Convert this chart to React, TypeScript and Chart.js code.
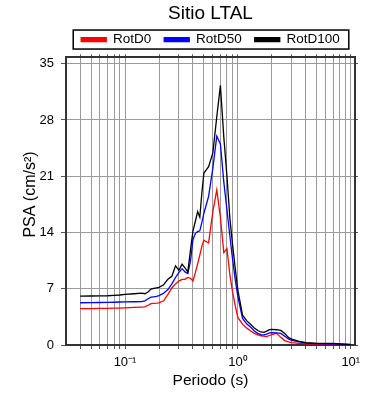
import React, { useEffect, useRef } from 'react';
import { Chart, registerables } from 'chart.js';

Chart.register(...registerables);

const periods = [
  0.04, 0.05, 0.06, 0.07, 0.08, 0.09, 0.1, 0.12, 0.14, 0.15, 0.16, 0.17, 0.18, 0.19, 0.2,
  0.22, 0.24, 0.26, 0.28, 0.3, 0.32, 0.34, 0.36, 0.38, 0.4, 0.42, 0.44, 0.46, 0.48, 0.5,
  0.55, 0.6, 0.65, 0.7, 0.75, 0.8, 0.85, 0.9, 0.95, 1.0, 1.1, 1.2, 1.3, 1.4, 1.5,
  1.6, 1.7, 1.8, 1.9, 2.0, 2.2, 2.4, 2.6, 2.8, 3.0, 3.5, 4, 5, 6, 7, 8, 9, 10,
];

const rotD0 = [
  4.52, 4.53, 4.55, 4.56, 4.58, 4.6, 4.63, 4.67, 4.72, 4.75, 4.95, 5.15, 5.18, 5.2, 5.25,
  5.5, 6.3, 7.1, 7.6, 7.95, 8.17, 8.17, 8.4, 8.3, 7.96, 9.0, 10.1, 11.2, 12.3, 13.05,
  12.7, 16.6, 19.3, 15.9, 11.5, 12.0, 8.7, 6.5, 4.8, 3.4, 2.6, 2.1, 1.75, 1.45, 1.25,
  1.15, 1.1, 1.05, 1.18, 1.3, 1.45, 0.95, 0.55, 0.38, 0.3, 0.2, 0.15, 0.12, 0.1, 0.1, 0.08, 0.05, 0.04,
];

const rotD50 = [
  5.26, 5.27, 5.29, 5.3, 5.32, 5.35, 5.37, 5.38, 5.4, 5.5, 5.75, 5.95, 6.0, 6.05, 6.15,
  6.45, 6.9, 7.6, 8.4, 9.0, 9.5, 9.1, 8.9, 10.4, 13.1, 13.9, 14.1, 14.2, 15.3, 16.4,
  18.5, 22.0, 26.0, 25.0, 20.3, 16.8, 13.5, 10.5, 8.0, 6.0, 3.3, 2.6, 2.2, 1.75, 1.45,
  1.3, 1.25, 1.35, 1.5, 1.55, 1.52, 1.45, 1.1, 0.75, 0.58, 0.38, 0.25, 0.16, 0.15, 0.15, 0.12, 0.08, 0.05,
];

const rotD100 = [
  6.09, 6.1, 6.12, 6.13, 6.17, 6.22, 6.3, 6.38, 6.46, 6.38, 6.6, 6.95, 7.05, 7.12, 7.18,
  7.5, 8.2, 8.55, 9.85, 9.3, 10.05, 9.6, 9.1, 11.8, 14.2, 15.4, 16.6, 15.9, 19.0, 21.4,
  22.2, 23.9, 28.4, 32.3, 25.9, 21.0, 15.7, 12.3, 9.4, 6.8, 3.7, 3.0, 2.55, 2.1, 1.8,
  1.62, 1.58, 1.72, 1.92, 1.95, 1.9, 1.82, 1.42, 0.95, 0.72, 0.45, 0.3, 0.2, 0.2, 0.2, 0.15, 0.1, 0.06,
];

const seriesLabels = ['RotD0', 'RotD50', 'RotD100'];
const seriesColors = ['#ff0000', '#0000ff', '#000000'];
const seriesValues = [rotD0, rotD50, rotD100];

const xTicks = [
  0.04, 0.05, 0.06, 0.07, 0.08, 0.09,
  0.1, 0.2, 0.3, 0.4, 0.5, 0.6, 0.7, 0.8, 0.9,
  1, 2, 3, 4, 5, 6, 7, 8, 9, 10,
];
const xMajorLabels: Record<string, string> = { '0.1': '10⁻¹', '1': '10⁰', '10': '10¹' };
const yTicks = [0, 7, 14, 21, 28, 35];

const FONT = '"Liberation Sans", Arial, Helvetica, sans-serif';

const legendFrame = {
  id: 'legendFrame',
  afterDraw(chart: any) {
    const lg = chart.legend;
    if (!lg || !lg.legendHitBoxes || !lg.legendHitBoxes.length) return;
    const boxes = lg.legendHitBoxes;
    const left = Math.min(...boxes.map((b: any) => b.left)) - 8;
    const right = Math.max(...boxes.map((b: any) => b.left + b.width)) + 9;
    const cy = boxes[0].top + boxes[0].height / 2;
    const ctx = chart.ctx;
    ctx.save();
    ctx.strokeStyle = '#000';
    ctx.lineWidth = 1.5;
    ctx.strokeRect(left, cy - 9.5, right - left, 19);
    ctx.restore();
  },
};

export default function App() {
  const ref = useRef<HTMLCanvasElement>(null);

  useEffect(() => {
    if (!ref.current) return;
    Chart.defaults.font.family = FONT;
    const setX = (scale: any) => {
      scale.ticks = xTicks.map((v) => ({ value: v, major: !!xMajorLabels[String(v)] }));
    };
    const setY = (scale: any) => {
      scale.ticks = yTicks.map((v) => ({ value: v }));
    };
    const gridColor = '#9a9a9a';
    const tickColor = '#555';
    const frame = { color: '#333', width: 2 };

    const chart = new Chart(ref.current, {
      type: 'line',
      data: {
        datasets: seriesLabels.map((label, i) => ({
          label,
          data: periods.map((p, j) => ({ x: p, y: seriesValues[i][j] })),
          borderColor: seriesColors[i],
          backgroundColor: seriesColors[i],
          borderWidth: 1.3,
          pointRadius: 0,
          tension: 0,
          fill: false,
          order: 3 - i,
        })),
      },
      options: {
        responsive: false,
        animation: false,
        devicePixelRatio: 1,
        layout: { padding: { left: 31, right: 0, top: 0, bottom: 0 } },
        plugins: {
          title: {
            display: true,
            text: 'Sitio LTAL',
            color: '#000',
            font: { size: 19, weight: 'normal' as any, family: FONT },
            padding: { top: 2, bottom: -5 },
          },
          legend: {
            display: true,
            position: 'top',
            labels: {
              boxWidth: 25,
              boxHeight: 4,
              padding: 13,
              color: '#000',
              font: { size: 13.5, family: FONT },
              sort: (a: any, b: any) => a.datasetIndex - b.datasetIndex,
            },
          },
          tooltip: { enabled: false },
        },
        scales: {
          x: {
            type: 'logarithmic',
            position: 'bottom',
            min: 0.03,
            max: 10.9,
            afterBuildTicks: setX,
            afterFit: (s: any) => { s.height = 55; },
            grid: { color: gridColor, lineWidth: 1, tickLength: 4, tickColor },
            border: frame,
            ticks: {
              autoSkip: false,
              maxRotation: 0,
              color: '#000',
              font: { size: 13, family: FONT },
              padding: 6,
              callback: (v: any) => xMajorLabels[String(Number(v))] || '',
            },
            title: {
              display: true,
              text: 'Periodo (s)',
              color: '#000',
              font: { size: 15.5, family: FONT },
              padding: { top: 0, bottom: 9.5 },
            },
          },
          x2: {
            type: 'logarithmic',
            position: 'top',
            min: 0.03,
            max: 10.9,
            afterBuildTicks: setX,
            afterFit: (s: any) => { s.height = 1; },
            grid: { drawOnChartArea: false, tickLength: 3, tickColor },
            border: frame,
            ticks: { display: false },
          },
          y: {
            type: 'linear',
            position: 'left',
            min: 0,
            max: 35.8,
            afterBuildTicks: setY,
            afterFit: (s: any) => { s.width = 35; },
            grid: { color: gridColor, lineWidth: 1, tickLength: 5, tickColor },
            border: frame,
            ticks: { color: '#000', font: { size: 13, family: FONT }, padding: 7 },
            title: {
              display: true,
              text: '   PSA (cm/s²)',
              color: '#000',
              font: { size: 16, family: FONT },
              padding: { top: -9.6, bottom: 0 },
            },
          },
          y2: {
            type: 'linear',
            position: 'right',
            min: 0,
            max: 35.8,
            afterBuildTicks: setY,
            afterFit: (s: any) => { s.width = 35; },
            grid: { drawOnChartArea: false, tickLength: 3, tickColor },
            border: frame,
            ticks: { display: false },
          },
        },
      } as any,
      plugins: [legendFrame],
    });
    return () => chart.destroy();
  }, []);

  return (
    <div style={{ position: 'fixed', left: 0, top: 0, width: 390, height: 400, background: '#fff' }}>
      <canvas ref={ref} width={390} height={400} style={{ display: 'block', width: 390, height: 400 }} />
    </div>
  );
}
